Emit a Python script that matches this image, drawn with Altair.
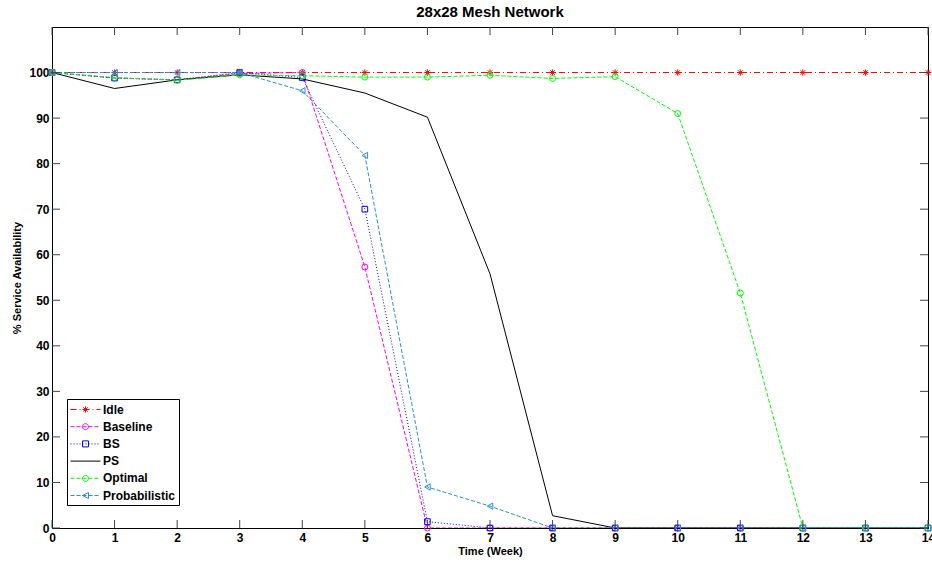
import altair as alt
import pandas as pd
import numpy as np

# ---------------- data ----------------
weeks = list(range(15))
series_names = ["Idle", "Baseline", "BS", "PS", "Optimal", "Probabilistic"]
idle = [100] * 15
baseline = [100, 98.8, 98.4, 99.8, 100, 57.3, 0, 0, 0, 0, 0, 0, 0, 0, 0]
bs = [100, 98.8, 98.4, 100, 98.9, 70.0, 1.4, 0, 0, 0, 0, 0, 0, 0, 0]
ps = [100, 96.5, 98.4, 99.5, 98.6, 95.5, 90.2, 55.8, 2.7, 0, 0, 0, 0, 0, 0]
optimal = [100, 98.9, 98.3, 99.5, 99.3, 99.0, 99.0, 99.4, 98.7, 99.1, 91.0, 51.6, 0, 0, 0]
probabilistic = [100, 100, 100, 100, 96.0, 81.8, 9.0, 4.8, 0, 0, 0, 0, 0, 0, 0]
x_ticks = list(range(15))
y_ticks = list(range(0, 101, 10))

values = {"Idle": idle, "Baseline": baseline, "BS": bs, "PS": ps,
          "Optimal": optimal, "Probabilistic": probabilistic}
df = pd.DataFrame([{"series": s, "week": w, "value": v}
                   for s in series_names for w, v in zip(weeks, values[s])])

# ---------------- style ----------------
FONT = "Liberation Sans"
colors = {"Idle": "#ff0000", "Baseline": "#ff00ff", "BS": "#0000ff", "PS": "#000000",
          "Optimal": "#00ff00", "Probabilistic": "#2b8fd4"}
dashes = {"Idle": [6, 3, 1, 3], "Baseline": [4, 2], "BS": [1, 2], "PS": None,
          "Optimal": [4, 2], "Probabilistic": [4, 2]}
asterisk = "M-1,0L1,0M0,-1L0,1M-0.7,-0.7L0.7,0.7M-0.7,0.7L0.7,-0.7"
shapes = {"Idle": asterisk, "Baseline": "circle", "BS": "square", "PS": None,
          "Optimal": "circle", "Probabilistic": "triangle-left"}
sizes = {"Idle": 40, "Baseline": 36, "BS": 32, "Optimal": 36, "Probabilistic": 40}

W, H = 876, 501
xscale = alt.Scale(domain=[0, 14], nice=False, zero=False)
yscale = alt.Scale(domain=[0, 110], nice=False, zero=False)

xaxis = alt.Axis(values=x_ticks, ticks=False, tickSize=0, grid=False, labelFont=FONT,
                 labelFontSize=12, labelFontWeight="bold", labelColor="black",
                 labelPadding=4, title="Time (Week)", titleFont=FONT, titleFontSize=11,
                 titleFontWeight="bold", titleColor="black", titlePadding=2,
                 domainColor="black", labelFlush=False)
yaxis = alt.Axis(values=y_ticks, ticks=False, tickSize=0, grid=False, labelFont=FONT,
                 labelFontSize=12, labelFontWeight="bold", labelColor="black",
                 labelPadding=3, title="% Service Availability", titleFont=FONT,
                 titleFontSize=11, titleFontWeight="bold", titleColor="black",
                 titlePadding=6, domainColor="black", labelFlush=False)
X = alt.X("week:Q", scale=xscale, axis=xaxis)
Y = alt.Y("value:Q", scale=yscale, axis=yaxis)

# legend symbol paths (line sample + marker), in symbol units
U = 7.0
def seg_path(pattern, a=-7.0, b=23.0):
    if not pattern:
        return f"M{a/U:.3f},0H{b/U:.3f}"
    parts, x, i = [], a, 0
    while x < b:
        L = pattern[i % len(pattern)]
        if i % 2 == 0:
            e = min(x + L, b)
            parts.append(f"M{x/U:.3f},0H{e/U:.3f}")
        x += L
        i += 1
    return "".join(parts)

def marker_path(kind, mx=8.0, r=3.0):
    if kind is None:
        return ""
    if kind == "circle":
        pts = [(mx + r * np.cos(t), r * np.sin(t)) for t in np.linspace(0, 2 * np.pi, 17)[:-1]]
        return "M" + "L".join(f"{px/U:.3f},{py/U:.3f}" for px, py in pts) + "Z"
    if kind == "square":
        return f"M{(mx-r)/U:.3f},{-r/U:.3f}H{(mx+r)/U:.3f}V{r/U:.3f}H{(mx-r)/U:.3f}Z"
    if kind == "triangle-left":
        return f"M{(mx-r)/U:.3f},0L{(mx+r)/U:.3f},{-r/U:.3f}L{(mx+r)/U:.3f},{r/U:.3f}Z"
    d = 0.7 * r
    return (f"M{(mx-r)/U:.3f},0H{(mx+r)/U:.3f}M{mx/U:.3f},{-r/U:.3f}V{r/U:.3f}"
            f"M{(mx-d)/U:.3f},{-d/U:.3f}L{(mx+d)/U:.3f},{d/U:.3f}"
            f"M{(mx-d)/U:.3f},{d/U:.3f}L{(mx+d)/U:.3f},{-d/U:.3f}")

legend_paths = [seg_path(dashes[s]) + marker_path(
    None if s == "PS" else ("asterisk" if s == "Idle" else shapes[s])) for s in series_names]

# ---------------- layers ----------------
layers = []
for s in series_names:
    kw = dict(color=colors[s], strokeWidth=1, clip=True)
    if dashes[s]:
        kw["strokeDash"] = dashes[s]
    base = alt.Chart(df).transform_filter(alt.datum.series == s)
    layers.append(base.mark_line(**kw).encode(x=X, y=Y))
    if shapes[s]:
        layers.append(base.mark_point(shape=shapes[s], color=colors[s], size=sizes[s],
                                      filled=False, strokeWidth=1, opacity=1).encode(x=X, y=Y))

# inward ticks (MATLAB box style)
xt = pd.DataFrame({"week": x_ticks})
yt = pd.DataFrame({"value": y_ticks})
tick_col = "#444444"
for y0, y1 in [(H, H - 8), (0, 8)]:
    layers.append(alt.Chart(xt).mark_rule(color=tick_col, strokeWidth=1).encode(
        x=X, y=alt.value(y0), y2=alt.value(y1)))
for x0, x1 in [(0, 8), (W, W - 8)]:
    layers.append(alt.Chart(yt).mark_rule(color=tick_col, strokeWidth=1).encode(
        y=Y, x=alt.value(x0), x2=alt.value(x1)))

# legend layer (no visible marks)
leg_df = pd.DataFrame({"series": series_names, "week": [np.nan] * 6, "value": [np.nan] * 6})
leg = alt.Legend(title=None, orient="none", legendX=15, legendY=372, strokeColor="black",
                 fillColor="white", padding=3, cornerRadius=0, symbolSize=196,
                 symbolStrokeWidth=1, labelFont=FONT, labelFontSize=12,
                 labelFontWeight="bold", labelColor="black", labelOffset=18,
                 rowPadding=3.2, labelLimit=200)
layers.append(alt.Chart(leg_df).mark_point(filled=False, strokeWidth=1, size=196, opacity=1).encode(
    x=X, y=Y,
    color=alt.Color("series:N", scale=alt.Scale(domain=series_names,
                                                range=[colors[s] for s in series_names]), legend=leg),
    shape=alt.Shape("series:N", scale=alt.Scale(domain=series_names, range=legend_paths), legend=leg)))

chart = alt.layer(*layers).properties(
    width=W, height=H,
    title=alt.TitleParams("28x28 Mesh Network", font=FONT, fontSize=15, fontWeight="bold",
                          color="black", anchor="middle", baseline="bottom", offset=8,
                          frame="group", dy=16),
    autosize=alt.AutoSizeParams(type="none"),
    padding={"left": 52, "top": 27, "right": 4, "bottom": 37},
    background="white",
).configure_view(stroke="black", strokeWidth=1)

chart.save("out.html", embed_options={"renderer": "svg", "actions": False})
